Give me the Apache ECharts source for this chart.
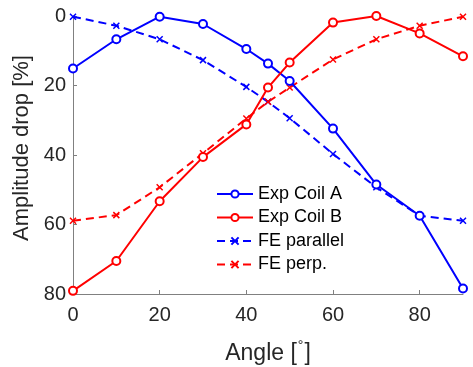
<!DOCTYPE html>
<html>
<head>
<meta charset="utf-8">
<script src="https://cdn.jsdelivr.net/npm/echarts@6/dist/echarts.min.js"></script>
<style>html,body{margin:0;padding:0;background:#fff}#c{width:473px;height:367px}</style>
</head>
<body>
<div id="c"></div>
<script>
const angles = [0, 10, 20, 30, 40, 45, 50, 60, 70, 80, 90];
const coilA = [15.1, 6.7, 0.2, 2.3, 9.5, 13.7, 18.7, 32.4, 48.5, 57.5, 78.4];
const coilB = [79.1, 70.5, 53.3, 40.6, 31.2, 20.6, 13.4, 1.9, 0.0, 5.0, 11.6];
const feParallel = [0.2, 2.8, 6.7, 12.7, 20.4, 24.7, 29.4, 39.7, 49.3, 57.5, 58.9];
const fePerp = [58.9, 57.3, 49.3, 39.5, 29.5, 24.7, 20.6, 12.5, 6.7, 2.8, 0.2];
const xTicks = [0, 20, 40, 60, 80];
const yTicks = [0, 20, 40, 60, 80];
const names = ['Exp Coil A', 'Exp Coil B', 'FE parallel', 'FE perp.'];

const pairs = ys => angles.map((a, i) => [a, ys[i]]);
const FONT = 'Liberation Sans';
const TXT = '#262626';
const AX = '#808080';
const crossPath = 'path://M0,0L10,10M10,0L0,10';

function mk(name, ys, color, dashed) {
  return {
    name: name,
    type: 'line',
    data: pairs(ys),
    symbol: dashed ? crossPath : 'emptyCircle',
    symbolSize: dashed ? 6 : 8,
    showSymbol: true,
    lineStyle: { color: color, width: 2, type: dashed ? [8, 5] : 'solid' },
    itemStyle: { color: color, borderColor: color, borderWidth: 1.5 },
    z: dashed ? 2 : 3,
    animation: false
  };
}

const chart = echarts.init(document.getElementById('c'), null, { renderer: 'canvas' });
chart.setOption({
  backgroundColor: '#fff',
  animation: false,
  grid: { left: 73, right: 10, top: 16, bottom: 73, containLabel: false, outerBoundsMode: 'none' },
  xAxis: {
    type: 'value', min: 0, max: 90, interval: 20,
    name: 'Angle [{sup|°}]',
    nameLocation: 'middle', nameGap: 45,
    nameTextStyle: { fontFamily: FONT, fontSize: 23, color: TXT,
      rich: { sup: { fontFamily: FONT, fontSize: 14, color: TXT, padding: [0, 1, 16, 1] } } },
    axisLine: { show: true, onZero: false, lineStyle: { color: AX, width: 1 } },
    axisTick: { show: true, inside: true, length: 4, lineStyle: { color: AX }, customValues: xTicks },
    axisLabel: { fontFamily: FONT, fontSize: 20, color: TXT, margin: 11, customValues: xTicks },
    splitLine: { show: false }
  },
  yAxis: {
    type: 'value', min: 0, max: 80, interval: 20, inverse: true,
    name: 'Amplitude drop [%]',
    nameLocation: 'middle', nameGap: 35, nameRotate: 90,
    nameTextStyle: { fontFamily: FONT, fontSize: 22, color: TXT, padding: [0, 0, 0, 14] },
    axisLine: { show: true, onZero: false, lineStyle: { color: AX, width: 1 } },
    axisTick: { show: true, inside: true, length: 4, lineStyle: { color: AX }, customValues: yTicks },
    axisLabel: { fontFamily: FONT, fontSize: 20, color: TXT, margin: 7, customValues: yTicks,
      padding: [8, 0, 0, 0] },
    splitLine: { show: false }
  },
  legend: {
    orient: 'vertical', left: 211, top: 180,
    itemWidth: 36, itemHeight: 9, itemGap: 5.5,
    data: names,
    textStyle: { fontFamily: FONT, fontSize: 18, color: '#000' }
  },
  series: [
    mk(names[0], coilA, '#0000FF', false),
    mk(names[1], coilB, '#FF0000', false),
    mk(names[2], feParallel, '#0000FF', true),
    mk(names[3], fePerp, '#FF0000', true)
  ]
});
</script>
</body>
</html>
